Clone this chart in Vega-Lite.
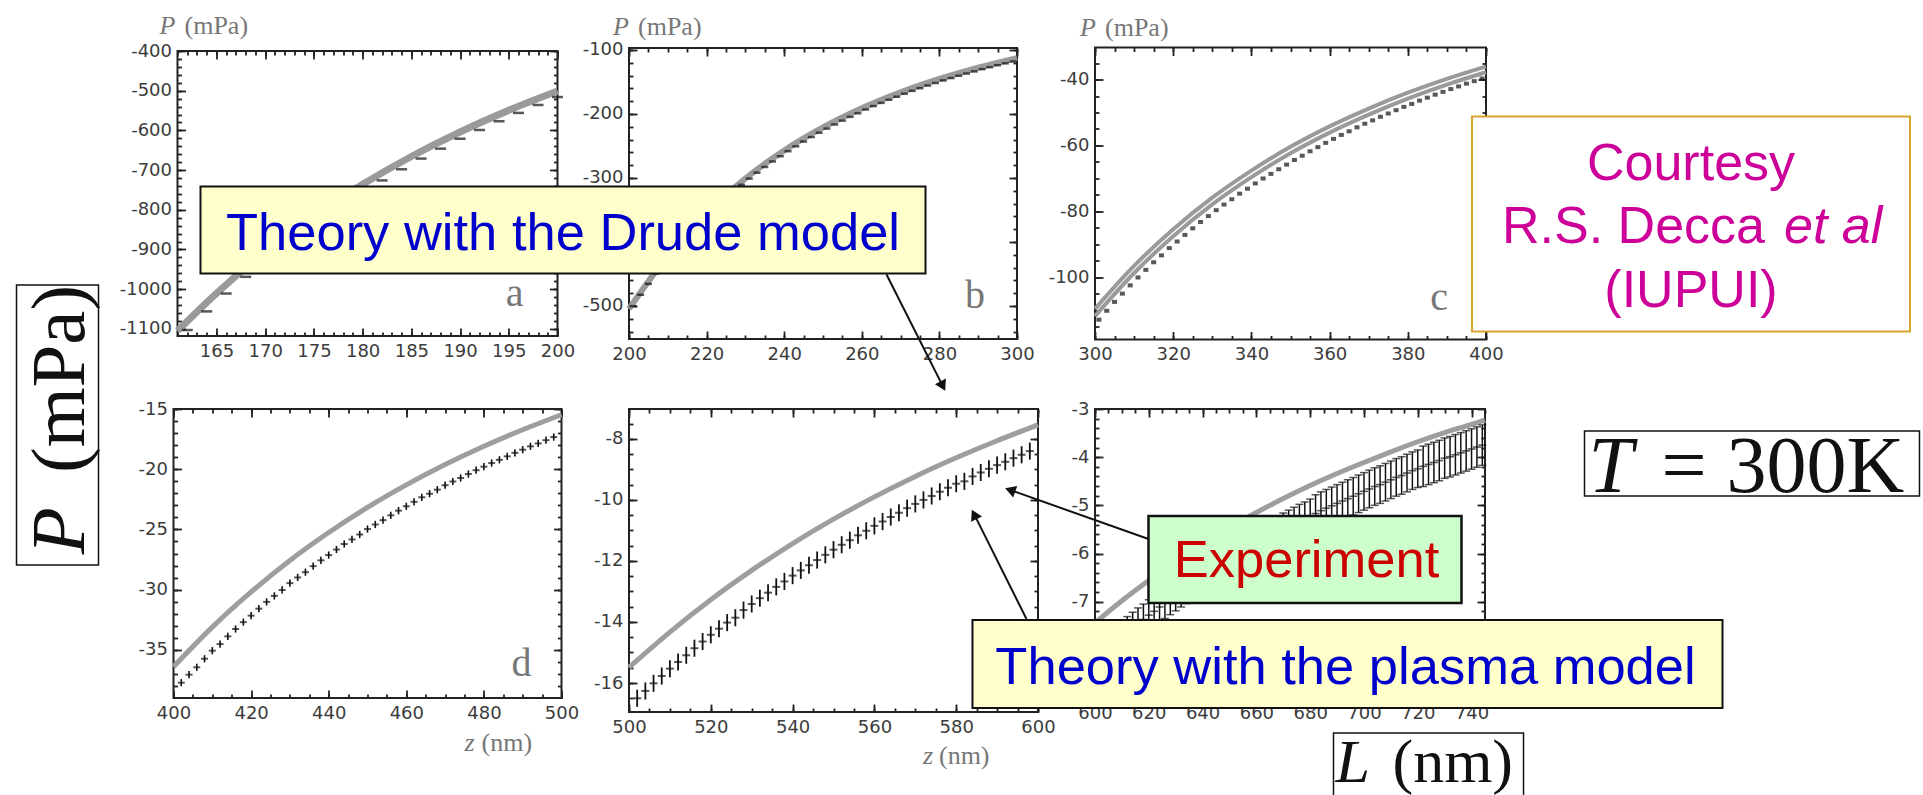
{
"$schema": "https://vega.github.io/schema/vega-lite/v6.json",
"padding": 0,
"background": "white",
"columns": 3,
"spacing": {"row": 64, "column": 57},
"bounds": "flush",
"align": "all",
"center": true,
"config": {
  "view": {"stroke": "#222", "strokeWidth": 2},
  "axis": {"domain": false, "grid": false, "labelFont": "DejaVu Sans", "labelFontSize": 18, "labelColor": "#3c3c3c", "tickColor": "#222", "tickWidth": 1.8, "labelFlush": false, "labelOverlap": false}
},
"concat": [
{
"width": 380, "height": 285,
"data": {"values": [{"z":161,"P":-1105},{"z":165,"P":-1010.4},{"z":170,"P":-906.2},{"z":175,"P":-815.2},{"z":180,"P":-735.7},{"z":185,"P":-665.7},{"z":190,"P":-604.0},{"z":195,"P":-549.5},{"z":200,"P":-501.0}]},
"resolve": {"axis": {"x": "independent", "y": "independent"}},
"layer": [
 {"mark": {"type": "line", "opacity": 0}, "encoding": {
   "x": {"field": "z", "type": "quantitative", "scale": {"domain": [161, 200], "nice": false, "zero": false}, "axis": {"orient": "bottom", "values": [161,162,163,164,165,166,167,168,169,170,171,172,173,174,175,176,177,178,179,180,181,182,183,184,185,186,187,188,189,190,191,192,193,194,195,196,197,198,199,200], "labels": false, "tickSize": -4, "title": null}},
   "y": {"field": "P", "type": "quantitative", "scale": {"domain": [-1118, -400], "nice": false, "zero": false}, "axis": {"orient": "left", "values": [-1100,-1080,-1060,-1040,-1020,-1000,-980,-960,-940,-920,-900,-880,-860,-840,-820,-800,-780,-760,-740,-720,-700,-680,-660,-640,-620,-600,-580,-560,-540,-520,-500,-480,-460,-440,-420,-400], "labels": false, "tickSize": -4, "title": null}}}},
 {"mark": {"type": "line", "opacity": 0}, "encoding": {
   "x": {"field": "z", "type": "quantitative", "axis": {"orient": "top", "values": [161,162,163,164,165,166,167,168,169,170,171,172,173,174,175,176,177,178,179,180,181,182,183,184,185,186,187,188,189,190,191,192,193,194,195,196,197,198,199,200], "labels": false, "tickSize": -4, "title": null}},
   "y": {"field": "P", "type": "quantitative", "axis": {"orient": "right", "values": [-1100,-1080,-1060,-1040,-1020,-1000,-980,-960,-940,-920,-900,-880,-860,-840,-820,-800,-780,-760,-740,-720,-700,-680,-660,-640,-620,-600,-580,-560,-540,-520,-500,-480,-460,-440,-420,-400], "labels": false, "tickSize": -4, "title": null}}}},
 {"mark": {"type": "line", "opacity": 0}, "encoding": {
   "x": {"field": "z", "type": "quantitative", "axis": {"orient": "top", "values": [165,170,175,180,185,190,195,200], "labels": false, "tickSize": -8, "title": null}},
   "y": {"field": "P", "type": "quantitative", "axis": {"orient": "right", "values": [-1100,-1000,-900,-800,-700,-600,-500,-400], "labels": false, "tickSize": -8, "title": null}}}},
 {"mark": {"type": "line", "color": "#9a9a9a", "strokeWidth": 7, "interpolate": "monotone"}, "encoding": {
   "x": {"field": "z", "type": "quantitative", "axis": {"orient": "bottom", "values": [165,170,175,180,185,190,195,200], "tickSize": -8, "labelPadding": 14, "labelExpr": "datum.value + ''", "title": null}},
   "y": {"field": "P", "type": "quantitative", "axis": {"orient": "left", "values": [-1100,-1000,-900,-800,-700,-600,-500,-400], "tickSize": -8, "labelPadding": 14, "labelExpr": "datum.value + ''", "title": null}}}},
 {"data": {"values": [{"z":162,"P":-1103},{"z":164,"P":-1056},{"z":166,"P":-1011},{"z":168,"P":-969},{"z":170,"P":-927},{"z":172,"P":-890},{"z":174,"P":-853},{"z":176,"P":-819},{"z":178,"P":-787},{"z":180,"P":-755},{"z":182,"P":-726},{"z":184,"P":-698},{"z":186,"P":-671},{"z":188,"P":-646},{"z":190,"P":-621},{"z":192,"P":-599},{"z":194,"P":-577},{"z":196,"P":-556},{"z":198,"P":-536},{"z":200,"P":-516}]},
  "mark": {"type": "tick", "orient": "horizontal", "size": 11, "thickness": 2.5, "color": "#111"},
  "encoding": {"x": {"field": "z", "type": "quantitative", "axis": null}, "y": {"field": "P", "type": "quantitative", "axis": null}}},
 {"data": {"values": [{}]}, "mark": {"type": "text", "text": "a", "font": "Liberation Serif", "fontSize": 40, "color": "#777", "align": "center", "baseline": "alphabetic"}, "encoding": {"x": {"datum": 195.59, "axis": null}, "y": {"datum": -1042.3, "axis": null}}},
 {"data": {"values": [{}]}, "mark": {"type": "text", "text": "P", "font": "Liberation Serif", "fontStyle": "italic", "fontSize": 26, "color": "#777", "align": "left", "baseline": "alphabetic"}, "encoding": {"x": {"datum": 159.15, "axis": null}, "y": {"datum": -357.2, "axis": null}}},
 {"data": {"values": [{}]}, "mark": {"type": "text", "text": "(mPa)", "font": "Liberation Serif", "fontSize": 26, "color": "#777", "align": "left", "baseline": "alphabetic"}, "encoding": {"x": {"datum": 161.72, "axis": null}, "y": {"datum": -357.2, "axis": null}}}
]
},
{
"width": 388, "height": 291,
"data": {"values": [{"z":200,"P":-504.5},{"z":210,"P":-421.2},{"z":220,"P":-354.6},{"z":230,"P":-300.8},{"z":240,"P":-257.0},{"z":250,"P":-221.0},{"z":260,"P":-191.1},{"z":270,"P":-166.2},{"z":280,"P":-145.3},{"z":290,"P":-127.6},{"z":300,"P":-112.6}]},
"resolve": {"axis": {"x": "independent", "y": "independent"}},
"layer": [
 {"mark": {"type": "line", "opacity": 0}, "encoding": {
   "x": {"field": "z", "type": "quantitative", "scale": {"domain": [200, 300], "nice": false, "zero": false}, "axis": {"orient": "bottom", "values": [200,205,210,215,220,225,230,235,240,245,250,255,260,265,270,275,280,285,290,295,300], "labels": false, "tickSize": -4, "title": null}},
   "y": {"field": "P", "type": "quantitative", "scale": {"domain": [-551.6, -96.9], "nice": false, "zero": false}, "axis": {"orient": "left", "values": [-540,-520,-500,-480,-460,-440,-420,-400,-380,-360,-340,-320,-300,-280,-260,-240,-220,-200,-180,-160,-140,-120,-100], "labels": false, "tickSize": -4, "title": null}}}},
 {"mark": {"type": "line", "opacity": 0}, "encoding": {
   "x": {"field": "z", "type": "quantitative", "axis": {"orient": "top", "values": [200,205,210,215,220,225,230,235,240,245,250,255,260,265,270,275,280,285,290,295,300], "labels": false, "tickSize": -4, "title": null}},
   "y": {"field": "P", "type": "quantitative", "axis": {"orient": "right", "values": [-540,-520,-500,-480,-460,-440,-420,-400,-380,-360,-340,-320,-300,-280,-260,-240,-220,-200,-180,-160,-140,-120,-100], "labels": false, "tickSize": -4, "title": null}}}},
 {"mark": {"type": "line", "opacity": 0}, "encoding": {
   "x": {"field": "z", "type": "quantitative", "axis": {"orient": "top", "values": [200,220,240,260,280,300], "labels": false, "tickSize": -8, "title": null}},
   "y": {"field": "P", "type": "quantitative", "axis": {"orient": "right", "values": [-500,-400,-300,-200,-100], "labels": false, "tickSize": -8, "title": null}}}},
 {"mark": {"type": "line", "color": "#9a9a9a", "strokeWidth": 6, "interpolate": "monotone"}, "encoding": {
   "x": {"field": "z", "type": "quantitative", "axis": {"orient": "bottom", "values": [200,220,240,260,280,300], "tickSize": -8, "labelPadding": 14, "labelExpr": "datum.value + ''", "title": null}},
   "y": {"field": "P", "type": "quantitative", "axis": {"orient": "left", "values": [-500,-400,-300,-200,-100], "tickSize": -8, "labelPadding": 14, "labelExpr": "datum.value + ''", "title": null}}}},
 {"data": {"values": [{"z":201,"P":-500.3},{"z":203,"P":-482.5},{"z":205,"P":-465.5},{"z":207,"P":-449.2},{"z":209,"P":-433.7},{"z":211,"P":-418.9},{"z":213,"P":-404.7},{"z":215,"P":-391.1},{"z":217,"P":-378.0},{"z":219,"P":-365.6},{"z":221,"P":-353.7},{"z":223,"P":-342.3},{"z":225,"P":-331.3},{"z":227,"P":-320.8},{"z":229,"P":-310.7},{"z":231,"P":-301.0},{"z":233,"P":-291.7},{"z":235,"P":-282.8},{"z":237,"P":-274.2},{"z":239,"P":-266.0},{"z":241,"P":-258.1},{"z":243,"P":-250.5},{"z":245,"P":-243.1},{"z":247,"P":-236.1},{"z":249,"P":-229.3},{"z":251,"P":-222.8},{"z":253,"P":-216.4},{"z":255,"P":-210.4},{"z":257,"P":-204.5},{"z":259,"P":-198.9},{"z":261,"P":-193.0},{"z":263,"P":-187.7},{"z":265,"P":-182.7},{"z":267,"P":-177.8},{"z":269,"P":-173.1},{"z":271,"P":-168.3},{"z":273,"P":-163.9},{"z":275,"P":-159.7},{"z":277,"P":-155.6},{"z":279,"P":-151.6},{"z":281,"P":-147.6},{"z":283,"P":-143.9},{"z":285,"P":-140.3},{"z":287,"P":-136.8},{"z":289,"P":-133.5},{"z":291,"P":-130.0},{"z":293,"P":-126.9},{"z":295,"P":-123.8},{"z":297,"P":-120.9},{"z":299,"P":-118.0}]},
  "mark": {"type": "tick", "orient": "horizontal", "size": 7, "thickness": 2.5, "color": "#111"},
  "encoding": {"x": {"field": "z", "type": "quantitative", "axis": null}, "y": {"field": "P", "type": "quantitative", "axis": null}}},
 {"data": {"values": [{}]}, "mark": {"type": "text", "text": "b", "font": "Liberation Serif", "fontSize": 40, "color": "#777", "align": "center", "baseline": "alphabetic"}, "encoding": {"x": {"datum": 289.18, "axis": null}, "y": {"datum": -503.1, "axis": null}}},
 {"data": {"values": [{}]}, "mark": {"type": "text", "text": "P", "font": "Liberation Serif", "fontStyle": "italic", "fontSize": 26, "color": "#777", "align": "left", "baseline": "alphabetic"}, "encoding": {"x": {"datum": 195.88, "axis": null}, "y": {"datum": -76.6, "axis": null}}},
 {"data": {"values": [{}]}, "mark": {"type": "text", "text": "(mPa)", "font": "Liberation Serif", "fontSize": 26, "color": "#777", "align": "left", "baseline": "alphabetic"}, "encoding": {"x": {"datum": 202.32, "axis": null}, "y": {"datum": -76.6, "axis": null}}},
 {"data": {"values": [{}]}, "mark": {"type": "rule", "color": "#111", "strokeWidth": 2}, "encoding": {"x": {"datum": 266.37, "axis": null}, "y": {"datum": -450.8, "axis": null}, "x2": {"datum": 280.88}, "y2": {"datum": -625.2}}},
 {"data": {"values": [{}]}, "mark": {"type": "point", "shape": "triangle-up", "filled": true, "color": "#111", "opacity": 1, "size": 150, "angle": 153.2}, "encoding": {"x": {"datum": 280.88, "axis": null}, "y": {"datum": -625.2, "axis": null}}},
 {"data": {"values": [{}]}, "mark": {"type": "rect", "fill": "#FFFFCC", "stroke": "#111", "strokeWidth": 2}, "encoding": {"x": {"datum": 89.56, "axis": null}, "x2": {"datum": 276.42}, "y": {"datum": -313.3, "axis": null}, "y2": {"datum": -449.2}}},
 {"data": {"values": [{}]}, "mark": {"type": "text", "text": "Theory with the Drude model", "font": "Liberation Sans", "fontSize": 52.5, "color": "#0000CC", "align": "center", "baseline": "alphabetic"}, "encoding": {"x": {"datum": 182.99, "axis": null}, "y": {"datum": -412.8, "axis": null}}}
]
},
{
"width": 391, "height": 292,
"data": {"values": [{"z":300,"P":-109.5,"s":"u"},{"z":310,"P":-96.5,"s":"u"},{"z":320,"P":-85.4,"s":"u"},{"z":330,"P":-75.8,"s":"u"},{"z":340,"P":-67.6,"s":"u"},{"z":350,"P":-60.4,"s":"u"},{"z":360,"P":-54.2,"s":"u"},{"z":370,"P":-48.8,"s":"u"},{"z":380,"P":-44.0,"s":"u"},{"z":390,"P":-39.8,"s":"u"},{"z":400,"P":-36.1,"s":"u"},{"z":300,"P":-111.7,"s":"l"},{"z":310,"P":-98.65,"s":"l"},{"z":320,"P":-87.5,"s":"l"},{"z":330,"P":-77.85,"s":"l"},{"z":340,"P":-69.6,"s":"l"},{"z":350,"P":-62.35,"s":"l"},{"z":360,"P":-56.1,"s":"l"},{"z":370,"P":-50.65,"s":"l"},{"z":380,"P":-45.8,"s":"l"},{"z":390,"P":-41.55,"s":"l"},{"z":400,"P":-37.8,"s":"l"}]},
"resolve": {"axis": {"x": "independent", "y": "independent"}},
"layer": [
 {"mark": {"type": "line", "opacity": 0}, "encoding": {
   "x": {"field": "z", "type": "quantitative", "scale": {"domain": [300, 400], "nice": false, "zero": false}, "axis": {"orient": "bottom", "values": [300,305,310,315,320,325,330,335,340,345,350,355,360,365,370,375,380,385,390,395,400], "labels": false, "tickSize": -4, "title": null}},
   "y": {"field": "P", "type": "quantitative", "scale": {"domain": [-118.8, -30.3], "nice": false, "zero": false}, "axis": {"orient": "left", "values": [-115,-110,-105,-100,-95,-90,-85,-80,-75,-70,-65,-60,-55,-50,-45,-40,-35], "labels": false, "tickSize": -4, "title": null}},
   "detail": {"field": "s"}}},
 {"mark": {"type": "line", "opacity": 0}, "encoding": {
   "x": {"field": "z", "type": "quantitative", "axis": {"orient": "top", "values": [300,305,310,315,320,325,330,335,340,345,350,355,360,365,370,375,380,385,390,395,400], "labels": false, "tickSize": -4, "title": null}},
   "y": {"field": "P", "type": "quantitative", "axis": {"orient": "right", "values": [-115,-110,-105,-100,-95,-90,-85,-80,-75,-70,-65,-60,-55,-50,-45,-40,-35], "labels": false, "tickSize": -4, "title": null}},
   "detail": {"field": "s"}}},
 {"mark": {"type": "line", "opacity": 0}, "encoding": {
   "x": {"field": "z", "type": "quantitative", "axis": {"orient": "top", "values": [300,320,340,360,380,400], "labels": false, "tickSize": -8, "title": null}},
   "y": {"field": "P", "type": "quantitative", "axis": {"orient": "right", "values": [-100,-80,-60,-40], "labels": false, "tickSize": -8, "title": null}},
   "detail": {"field": "s"}}},
 {"mark": {"type": "line", "color": "#9a9a9a", "strokeWidth": 4, "interpolate": "monotone"}, "encoding": {
   "x": {"field": "z", "type": "quantitative", "axis": {"orient": "bottom", "values": [300,320,340,360,380,400], "tickSize": -8, "labelPadding": 14, "labelExpr": "datum.value + ''", "title": null}},
   "y": {"field": "P", "type": "quantitative", "axis": {"orient": "left", "values": [-100,-80,-60,-40], "tickSize": -8, "labelPadding": 14, "labelExpr": "datum.value + ''", "title": null}},
   "detail": {"field": "s"}}},
 {"data": {"values": [{"z":301,"P":-112.8},{"z":303,"P":-110.1},{"z":305,"P":-107.4},{"z":307,"P":-104.9},{"z":309,"P":-102.4},{"z":311,"P":-100.0},{"z":313,"P":-97.7},{"z":315,"P":-95.4},{"z":317,"P":-93.3},{"z":319,"P":-91.1},{"z":321,"P":-89.1},{"z":323,"P":-87.1},{"z":325,"P":-85.1},{"z":327,"P":-83.2},{"z":329,"P":-81.4},{"z":331,"P":-79.6},{"z":333,"P":-77.9},{"z":335,"P":-76.3},{"z":337,"P":-74.6},{"z":339,"P":-73.1},{"z":341,"P":-71.5},{"z":343,"P":-70.0},{"z":345,"P":-68.6},{"z":347,"P":-67.2},{"z":349,"P":-65.8},{"z":351,"P":-64.4},{"z":353,"P":-63.1},{"z":355,"P":-61.75},{"z":357,"P":-60.5},{"z":359,"P":-59.2},{"z":361,"P":-58.0},{"z":363,"P":-56.8},{"z":365,"P":-55.7},{"z":367,"P":-54.5},{"z":369,"P":-53.4},{"z":371,"P":-52.4},{"z":373,"P":-51.3},{"z":375,"P":-50.3},{"z":377,"P":-49.3},{"z":379,"P":-48.3},{"z":381,"P":-47.4},{"z":383,"P":-46.4},{"z":385,"P":-45.5},{"z":387,"P":-44.6},{"z":389,"P":-43.75},{"z":391,"P":-42.9},{"z":393,"P":-42.1},{"z":395,"P":-41.25},{"z":397,"P":-40.5},{"z":399,"P":-39.7}]},
  "mark": {"type": "tick", "orient": "horizontal", "size": 5, "thickness": 4, "color": "#111"},
  "encoding": {"x": {"field": "z", "type": "quantitative", "axis": null}, "y": {"field": "P", "type": "quantitative", "axis": null}}},
 {"data": {"values": [{}]}, "mark": {"type": "text", "text": "c", "font": "Liberation Serif", "fontSize": 40, "color": "#777", "align": "center", "baseline": "alphabetic"}, "encoding": {"x": {"datum": 387.98, "axis": null}, "y": {"datum": -110.0, "axis": null}}},
 {"data": {"values": [{}]}, "mark": {"type": "text", "text": "P", "font": "Liberation Serif", "fontStyle": "italic", "fontSize": 26, "color": "#777", "align": "left", "baseline": "alphabetic"}, "encoding": {"x": {"datum": 296.16, "axis": null}, "y": {"datum": -26.67, "axis": null}}},
 {"data": {"values": [{}]}, "mark": {"type": "text", "text": "(mPa)", "font": "Liberation Serif", "fontSize": 26, "color": "#777", "align": "left", "baseline": "alphabetic"}, "encoding": {"x": {"datum": 302.56, "axis": null}, "y": {"datum": -26.67, "axis": null}}},
 {"data": {"values": [{}]}, "mark": {"type": "rect", "fill": "white", "stroke": "#D4A52A", "strokeWidth": 2}, "encoding": {"x": {"datum": 396.42, "axis": null}, "x2": {"datum": 508.44}, "y": {"datum": -51.21, "axis": null}, "y2": {"datum": -116.38}}},
 {"data": {"values": [{}]}, "mark": {"type": "text", "text": "Courtesy", "font": "Liberation Sans", "fontSize": 52, "color": "#CC0099", "align": "center", "baseline": "alphabetic"}, "encoding": {"x": {"datum": 452.43, "axis": null}, "y": {"datum": -70.31, "axis": null}}},
 {"data": {"values": [{}]}, "mark": {"type": "text", "text": "R.S. Decca", "font": "Liberation Sans", "fontSize": 52, "color": "#CC0099", "align": "right", "baseline": "alphabetic"}, "encoding": {"x": {"datum": 471.36, "axis": null}, "y": {"datum": -89.70, "axis": null}}},
 {"data": {"values": [{}]}, "mark": {"type": "text", "text": "et al", "font": "Liberation Sans", "fontStyle": "italic", "fontSize": 52, "color": "#CC0099", "align": "left", "baseline": "alphabetic"}, "encoding": {"x": {"datum": 476.22, "axis": null}, "y": {"datum": -89.70, "axis": null}}},
 {"data": {"values": [{}]}, "mark": {"type": "text", "text": "(IUPUI)", "font": "Liberation Sans", "fontSize": 52, "color": "#CC0099", "align": "center", "baseline": "alphabetic"}, "encoding": {"x": {"datum": 452.43, "axis": null}, "y": {"datum": -108.80, "axis": null}}}
]
},
{
"width": 388, "height": 289,
"data": {"values": [{"z":400,"P":-36.40},{"z":410,"P":-33.11},{"z":420,"P":-30.19},{"z":430,"P":-27.58},{"z":440,"P":-25.26},{"z":450,"P":-23.17},{"z":460,"P":-21.30},{"z":470,"P":-19.61},{"z":480,"P":-18.09},{"z":490,"P":-16.72},{"z":500,"P":-15.47}]},
"resolve": {"axis": {"x": "independent", "y": "independent"}},
"layer": [
 {"data": {"values": [{}]}, "mark": {"type": "rect", "fill": "white", "fillOpacity": 0}, "encoding": {"x": {"datum": 355.67, "axis": null, "scale": {"domain": [400, 500], "nice": false, "zero": false}}, "x2": {"datum": 851.289}, "y": {"datum": 18.8, "axis": null, "scale": {"domain": [-39, -15], "nice": false, "zero": false}}, "y2": {"datum": -47.222}}},
 {"mark": {"type": "line", "opacity": 0}, "encoding": {
   "x": {"field": "z", "type": "quantitative", "scale": {"domain": [400, 500], "nice": false, "zero": false}, "axis": {"orient": "bottom", "values": [400,405,410,415,420,425,430,435,440,445,450,455,460,465,470,475,480,485,490,495,500], "labels": false, "tickSize": -4, "title": null}},
   "y": {"field": "P", "type": "quantitative", "scale": {"domain": [-39, -15], "nice": false, "zero": false}, "axis": {"orient": "left", "values": [-38,-37,-36,-35,-34,-33,-32,-31,-30,-29,-28,-27,-26,-25,-24,-23,-22,-21,-20,-19,-18,-17,-16,-15], "labels": false, "tickSize": -4, "title": null}}}},
 {"mark": {"type": "line", "opacity": 0}, "encoding": {
   "x": {"field": "z", "type": "quantitative", "axis": {"orient": "top", "values": [400,405,410,415,420,425,430,435,440,445,450,455,460,465,470,475,480,485,490,495,500], "labels": false, "tickSize": -4, "title": null}},
   "y": {"field": "P", "type": "quantitative", "axis": {"orient": "right", "values": [-38,-37,-36,-35,-34,-33,-32,-31,-30,-29,-28,-27,-26,-25,-24,-23,-22,-21,-20,-19,-18,-17,-16,-15], "labels": false, "tickSize": -4, "title": null}}}},
 {"mark": {"type": "line", "opacity": 0}, "encoding": {
   "x": {"field": "z", "type": "quantitative", "axis": {"orient": "top", "values": [400,420,440,460,480,500], "labels": false, "tickSize": -8, "title": null}},
   "y": {"field": "P", "type": "quantitative", "axis": {"orient": "right", "values": [-35,-30,-25,-20,-15], "labels": false, "tickSize": -8, "title": null}}}},
 {"mark": {"type": "line", "color": "#9e9e9e", "strokeWidth": 5, "interpolate": "monotone"}, "encoding": {
   "x": {"field": "z", "type": "quantitative", "axis": {"orient": "bottom", "values": [400,420,440,460,480,500], "tickSize": -8, "labelPadding": 14, "labelExpr": "datum.value + ''", "title": null}},
   "y": {"field": "P", "type": "quantitative", "axis": {"orient": "left", "values": [-35,-30,-25,-20,-15], "tickSize": -8, "labelPadding": 14, "labelExpr": "datum.value + ''", "title": null}}}},
 {"data": {"values": [{"z":402,"P":-37.73,"e":0.3},{"z":404,"P":-37.06,"e":0.3},{"z":406,"P":-36.45,"e":0.3},{"z":408,"P":-35.74,"e":0.3},{"z":410,"P":-35.07,"e":0.3},{"z":412,"P":-34.52,"e":0.3},{"z":414,"P":-33.88,"e":0.3},{"z":416,"P":-33.27,"e":0.3},{"z":418,"P":-32.70,"e":0.3},{"z":420,"P":-32.16,"e":0.3},{"z":422,"P":-31.58,"e":0.3},{"z":424,"P":-31.02,"e":0.3},{"z":426,"P":-30.52,"e":0.3},{"z":428,"P":-30.03,"e":0.3},{"z":430,"P":-29.46,"e":0.3},{"z":432,"P":-28.99,"e":0.3},{"z":434,"P":-28.55,"e":0.3},{"z":436,"P":-28.05,"e":0.3},{"z":438,"P":-27.57,"e":0.3},{"z":440,"P":-27.13,"e":0.3},{"z":442,"P":-26.67,"e":0.3},{"z":444,"P":-26.21,"e":0.3},{"z":446,"P":-25.83,"e":0.3},{"z":448,"P":-25.42,"e":0.3},{"z":450,"P":-24.97,"e":0.3},{"z":452,"P":-24.59,"e":0.3},{"z":454,"P":-24.23,"e":0.3},{"z":456,"P":-23.83,"e":0.3},{"z":458,"P":-23.44,"e":0.3},{"z":460,"P":-23.08,"e":0.3},{"z":462,"P":-22.71,"e":0.3},{"z":464,"P":-22.33,"e":0.3},{"z":466,"P":-22.03,"e":0.3},{"z":468,"P":-21.70,"e":0.3},{"z":470,"P":-21.33,"e":0.3},{"z":472,"P":-21.02,"e":0.3},{"z":474,"P":-20.73,"e":0.3},{"z":476,"P":-20.40,"e":0.3},{"z":478,"P":-20.08,"e":0.3},{"z":480,"P":-19.79,"e":0.3},{"z":482,"P":-19.49,"e":0.3},{"z":484,"P":-19.22,"e":0.3},{"z":486,"P":-18.93,"e":0.3},{"z":488,"P":-18.64,"e":0.3},{"z":490,"P":-18.38,"e":0.3},{"z":492,"P":-18.10,"e":0.3},{"z":494,"P":-17.86,"e":0.3},{"z":496,"P":-17.59,"e":0.3},{"z":498,"P":-17.33,"e":0.3}]},
  "layer": [
   {"mark": {"type": "errorbar", "color": "#111", "thickness": 1.6}, "encoding": {"x": {"field": "z", "type": "quantitative", "axis": null}, "y": {"field": "P", "type": "quantitative", "axis": null}, "yError": {"field": "e"}}},
   {"mark": {"type": "tick", "orient": "horizontal", "size": 7, "thickness": 2, "color": "#111"}, "encoding": {"x": {"field": "z", "type": "quantitative", "axis": null}, "y": {"field": "P", "type": "quantitative", "axis": null}}}
  ]},
 {"data": {"values": [{}]}, "mark": {"type": "text", "text": "d", "font": "Liberation Serif", "fontSize": 40, "color": "#777", "align": "center", "baseline": "alphabetic"}, "encoding": {"x": {"datum": 489.69, "axis": null}, "y": {"datum": -37.16, "axis": null}}},
 {"data": {"values": [{}]}, "mark": {"type": "text", "text": "z", "font": "Liberation Serif", "fontStyle": "italic", "fontSize": 26, "color": "#777", "align": "left", "baseline": "alphabetic"}, "encoding": {"x": {"datum": 475.0, "axis": null}, "y": {"datum": -43.38, "axis": null}}},
 {"data": {"values": [{}]}, "mark": {"type": "text", "text": "(nm)", "font": "Liberation Serif", "fontSize": 26, "color": "#777", "align": "left", "baseline": "alphabetic"}, "encoding": {"x": {"datum": 479.38, "axis": null}, "y": {"datum": -43.38, "axis": null}}},
 {"data": {"values": [{}]}, "mark": {"type": "rect", "filled": false, "stroke": "#111", "strokeWidth": 1.5}, "encoding": {"x": {"datum": 359.54, "axis": null}, "x2": {"datum": 380.67}, "y": {"datum": -4.70, "axis": null}, "y2": {"datum": -27.955}}},
 {"data": {"values": [{}]}, "mark": {"type": "text", "text": "P", "font": "Liberation Serif", "fontStyle": "italic", "fontSize": 77, "color": "#111", "align": "center", "baseline": "alphabetic", "angle": 270}, "encoding": {"x": {"datum": 376.93, "axis": null}, "y": {"datum": -25.1, "axis": null}}},
 {"data": {"values": [{}]}, "mark": {"type": "text", "text": "(mPa)", "font": "Liberation Serif", "fontSize": 77, "color": "#111", "align": "center", "baseline": "alphabetic", "angle": 270}, "encoding": {"x": {"datum": 376.93, "axis": null}, "y": {"datum": -12.5, "axis": null}}}
]
},
{
"width": 409, "height": 303,
"data": {"values": [{"z":500,"P":-15.49},{"z":510,"P":-14.33},{"z":520,"P":-13.27},{"z":530,"P":-12.31},{"z":540,"P":-11.43},{"z":550,"P":-10.63},{"z":560,"P":-9.90},{"z":570,"P":-9.23},{"z":580,"P":-8.62},{"z":590,"P":-8.06},{"z":600,"P":-7.54}]},
"resolve": {"axis": {"x": "independent", "y": "independent"}},
"layer": [
 {"mark": {"type": "line", "opacity": 0}, "encoding": {
   "x": {"field": "z", "type": "quantitative", "scale": {"domain": [500, 600], "nice": false, "zero": false}, "axis": {"orient": "bottom", "values": [500,505,510,515,520,525,530,535,540,545,550,555,560,565,570,575,580,585,590,595,600], "labels": false, "tickSize": -4, "title": null}},
   "y": {"field": "P", "type": "quantitative", "scale": {"domain": [-16.95, -7.02], "nice": false, "zero": false}, "axis": {"orient": "left", "values": [-16.5,-16,-15.5,-15,-14.5,-14,-13.5,-13,-12.5,-12,-11.5,-11,-10.5,-10,-9.5,-9,-8.5,-8,-7.5], "labels": false, "tickSize": -4, "title": null}}}},
 {"mark": {"type": "line", "opacity": 0}, "encoding": {
   "x": {"field": "z", "type": "quantitative", "axis": {"orient": "top", "values": [500,505,510,515,520,525,530,535,540,545,550,555,560,565,570,575,580,585,590,595,600], "labels": false, "tickSize": -4, "title": null}},
   "y": {"field": "P", "type": "quantitative", "axis": {"orient": "right", "values": [-16.5,-16,-15.5,-15,-14.5,-14,-13.5,-13,-12.5,-12,-11.5,-11,-10.5,-10,-9.5,-9,-8.5,-8,-7.5], "labels": false, "tickSize": -4, "title": null}}}},
 {"mark": {"type": "line", "opacity": 0}, "encoding": {
   "x": {"field": "z", "type": "quantitative", "axis": {"orient": "top", "values": [500,520,540,560,580,600], "labels": false, "tickSize": -8, "title": null}},
   "y": {"field": "P", "type": "quantitative", "axis": {"orient": "right", "values": [-16,-14,-12,-10,-8], "labels": false, "tickSize": -8, "title": null}}}},
 {"mark": {"type": "line", "color": "#9e9e9e", "strokeWidth": 5, "interpolate": "monotone"}, "encoding": {
   "x": {"field": "z", "type": "quantitative", "axis": {"orient": "bottom", "values": [500,520,540,560,580,600], "tickSize": -8, "labelPadding": 14, "labelExpr": "datum.value + ''", "title": null}},
   "y": {"field": "P", "type": "quantitative", "axis": {"orient": "left", "values": [-16,-14,-12,-10,-8], "tickSize": -8, "labelPadding": 14, "labelExpr": "datum.value + ''", "title": null}}}},
 {"data": {"values": [{"z":502,"P":-16.50,"e":0.28},{"z":504,"P":-16.26,"e":0.28},{"z":506,"P":-16.01,"e":0.28},{"z":508,"P":-15.77,"e":0.28},{"z":510,"P":-15.53,"e":0.28},{"z":512,"P":-15.31,"e":0.28},{"z":514,"P":-15.09,"e":0.28},{"z":516,"P":-14.86,"e":0.28},{"z":518,"P":-14.64,"e":0.28},{"z":520,"P":-14.42,"e":0.28},{"z":522,"P":-14.22,"e":0.28},{"z":524,"P":-14.02,"e":0.28},{"z":526,"P":-13.86,"e":0.28},{"z":528,"P":-13.61,"e":0.28},{"z":530,"P":-13.41,"e":0.28},{"z":532,"P":-13.22,"e":0.28},{"z":534,"P":-13.04,"e":0.28},{"z":536,"P":-12.85,"e":0.28},{"z":538,"P":-12.67,"e":0.28},{"z":540,"P":-12.48,"e":0.28},{"z":542,"P":-12.31,"e":0.28},{"z":544,"P":-12.14,"e":0.28},{"z":546,"P":-11.97,"e":0.28},{"z":548,"P":-11.80,"e":0.28},{"z":550,"P":-11.63,"e":0.28},{"z":552,"P":-11.47,"e":0.28},{"z":554,"P":-11.32,"e":0.28},{"z":556,"P":-11.16,"e":0.28},{"z":558,"P":-11.01,"e":0.28},{"z":560,"P":-10.85,"e":0.28},{"z":562,"P":-10.71,"e":0.28},{"z":564,"P":-10.56,"e":0.28},{"z":566,"P":-10.42,"e":0.28},{"z":568,"P":-10.27,"e":0.28},{"z":570,"P":-10.13,"e":0.28},{"z":572,"P":-10.00,"e":0.28},{"z":574,"P":-9.87,"e":0.28},{"z":576,"P":-9.73,"e":0.28},{"z":578,"P":-9.60,"e":0.28},{"z":580,"P":-9.47,"e":0.28},{"z":582,"P":-9.39,"e":0.28},{"z":584,"P":-9.23,"e":0.28},{"z":586,"P":-9.10,"e":0.28},{"z":588,"P":-8.98,"e":0.28},{"z":590,"P":-8.86,"e":0.28},{"z":592,"P":-8.75,"e":0.28},{"z":594,"P":-8.63,"e":0.28},{"z":596,"P":-8.52,"e":0.28},{"z":598,"P":-8.40,"e":0.28}]},
  "layer": [
   {"mark": {"type": "errorbar", "color": "#111", "thickness": 1.8}, "encoding": {"x": {"field": "z", "type": "quantitative", "axis": null}, "y": {"field": "P", "type": "quantitative", "axis": null}, "yError": {"field": "e"}}},
   {"mark": {"type": "tick", "orient": "horizontal", "size": 8, "thickness": 2, "color": "#111"}, "encoding": {"x": {"field": "z", "type": "quantitative", "axis": null}, "y": {"field": "P", "type": "quantitative", "axis": null}}}
  ]},
 {"data": {"values": [{}]}, "mark": {"type": "text", "text": "z", "font": "Liberation Serif", "fontStyle": "italic", "fontSize": 26, "color": "#777", "align": "left", "baseline": "alphabetic"}, "encoding": {"x": {"datum": 571.88, "axis": null}, "y": {"datum": -18.66, "axis": null}}},
 {"data": {"values": [{}]}, "mark": {"type": "text", "text": "(nm)", "font": "Liberation Serif", "fontSize": 26, "color": "#777", "align": "left", "baseline": "alphabetic"}, "encoding": {"x": {"datum": 575.79, "axis": null}, "y": {"datum": -18.66, "axis": null}}}
]
},
{
"width": 390, "height": 289,
"data": {"values": [{"z":600,"P":-7.44},{"z":610,"P":-6.98},{"z":620,"P":-6.56},{"z":630,"P":-6.16},{"z":640,"P":-5.80},{"z":650,"P":-5.47},{"z":660,"P":-5.15},{"z":670,"P":-4.86},{"z":680,"P":-4.59},{"z":690,"P":-4.34},{"z":700,"P":-4.11},{"z":710,"P":-3.89},{"z":720,"P":-3.68},{"z":730,"P":-3.49},{"z":740,"P":-3.32},{"z":745,"P":-3.23}]},
"resolve": {"axis": {"x": "independent", "y": "independent"}},
"layer": [
 {"mark": {"type": "line", "opacity": 0}, "encoding": {
   "x": {"field": "z", "type": "quantitative", "scale": {"domain": [600, 745], "nice": false, "zero": false}, "axis": {"orient": "bottom", "values": [600,605,610,615,620,625,630,635,640,645,650,655,660,665,670,675,680,685,690,695,700,705,710,715,720,725,730,735,740,745], "labels": false, "tickSize": -4, "title": null}},
   "y": {"field": "P", "type": "quantitative", "scale": {"domain": [-9, -3], "nice": false, "zero": false}, "axis": {"orient": "left", "values": [-8.8,-8.6,-8.4,-8.2,-8,-7.8,-7.6,-7.4,-7.2,-7,-6.8,-6.6,-6.4,-6.2,-6,-5.8,-5.6,-5.4,-5.2,-5,-4.8,-4.6,-4.4,-4.2,-4,-3.8,-3.6,-3.4,-3.2], "labels": false, "tickSize": -4, "title": null}}}},
 {"mark": {"type": "line", "opacity": 0}, "encoding": {
   "x": {"field": "z", "type": "quantitative", "axis": {"orient": "top", "values": [600,605,610,615,620,625,630,635,640,645,650,655,660,665,670,675,680,685,690,695,700,705,710,715,720,725,730,735,740,745], "labels": false, "tickSize": -4, "title": null}},
   "y": {"field": "P", "type": "quantitative", "axis": {"orient": "right", "values": [-8.8,-8.6,-8.4,-8.2,-8,-7.8,-7.6,-7.4,-7.2,-7,-6.8,-6.6,-6.4,-6.2,-6,-5.8,-5.6,-5.4,-5.2,-5,-4.8,-4.6,-4.4,-4.2,-4,-3.8,-3.6,-3.4,-3.2], "labels": false, "tickSize": -4, "title": null}}}},
 {"mark": {"type": "line", "opacity": 0}, "encoding": {
   "x": {"field": "z", "type": "quantitative", "axis": {"orient": "top", "values": [600,620,640,660,680,700,720,740], "labels": false, "tickSize": -8, "title": null}},
   "y": {"field": "P", "type": "quantitative", "axis": {"orient": "right", "values": [-8,-7,-6,-5,-4,-3], "labels": false, "tickSize": -8, "title": null}}}},
 {"mark": {"type": "line", "color": "#9e9e9e", "strokeWidth": 5, "interpolate": "monotone"}, "encoding": {
   "x": {"field": "z", "type": "quantitative", "axis": {"orient": "bottom", "values": [600,620,640,660,680,700,720,740], "tickSize": -8, "labelPadding": 14, "labelExpr": "datum.value + ''", "title": null}},
   "y": {"field": "P", "type": "quantitative", "axis": {"orient": "left", "values": [-8,-7,-6,-5,-4,-3], "tickSize": -8, "labelPadding": 14, "labelExpr": "datum.value + ''", "title": null}}}},
 {"data": {"values": [{"z":602,"P":-8.10,"e":0.32},{"z":604,"P":-8.00,"e":0.32},{"z":606,"P":-7.91,"e":0.32},{"z":608,"P":-7.81,"e":0.32},{"z":610,"P":-7.72,"e":0.32},{"z":612,"P":-7.63,"e":0.32},{"z":614,"P":-7.54,"e":0.32},{"z":616,"P":-7.45,"e":0.32},{"z":618,"P":-7.37,"e":0.32},{"z":620,"P":-7.28,"e":0.32},{"z":622,"P":-7.20,"e":0.32},{"z":624,"P":-7.11,"e":0.32},{"z":626,"P":-7.03,"e":0.32},{"z":628,"P":-6.95,"e":0.32},{"z":630,"P":-6.87,"e":0.32},{"z":632,"P":-6.79,"e":0.32},{"z":634,"P":-6.72,"e":0.32},{"z":636,"P":-6.64,"e":0.32},{"z":638,"P":-6.57,"e":0.32},{"z":640,"P":-6.49,"e":0.32},{"z":642,"P":-6.42,"e":0.35},{"z":644,"P":-6.35,"e":0.35},{"z":646,"P":-6.28,"e":0.35},{"z":648,"P":-6.21,"e":0.35},{"z":650,"P":-6.15,"e":0.35},{"z":652,"P":-6.08,"e":0.35},{"z":654,"P":-6.01,"e":0.35},{"z":656,"P":-5.94,"e":0.35},{"z":658,"P":-5.88,"e":0.35},{"z":660,"P":-5.81,"e":0.35},{"z":662,"P":-5.75,"e":0.35},{"z":664,"P":-5.69,"e":0.35},{"z":666,"P":-5.63,"e":0.35},{"z":668,"P":-5.57,"e":0.35},{"z":670,"P":-5.51,"e":0.35},{"z":672,"P":-5.45,"e":0.35},{"z":674,"P":-5.39,"e":0.35},{"z":676,"P":-5.33,"e":0.35},{"z":678,"P":-5.28,"e":0.35},{"z":680,"P":-5.22,"e":0.35},{"z":682,"P":-5.17,"e":0.39},{"z":684,"P":-5.11,"e":0.39},{"z":686,"P":-5.06,"e":0.39},{"z":688,"P":-5.01,"e":0.39},{"z":690,"P":-4.96,"e":0.39},{"z":692,"P":-4.91,"e":0.39},{"z":694,"P":-4.86,"e":0.39},{"z":696,"P":-4.81,"e":0.39},{"z":698,"P":-4.76,"e":0.39},{"z":700,"P":-4.71,"e":0.39},{"z":702,"P":-4.66,"e":0.39},{"z":704,"P":-4.61,"e":0.39},{"z":706,"P":-4.57,"e":0.39},{"z":708,"P":-4.52,"e":0.39},{"z":710,"P":-4.47,"e":0.39},{"z":712,"P":-4.42,"e":0.39},{"z":714,"P":-4.38,"e":0.39},{"z":716,"P":-4.33,"e":0.39},{"z":718,"P":-4.28,"e":0.39},{"z":720,"P":-4.24,"e":0.39},{"z":722,"P":-4.19,"e":0.42},{"z":724,"P":-4.15,"e":0.42},{"z":726,"P":-4.11,"e":0.42},{"z":728,"P":-4.07,"e":0.42},{"z":730,"P":-4.02,"e":0.42},{"z":732,"P":-3.99,"e":0.42},{"z":734,"P":-3.95,"e":0.42},{"z":736,"P":-3.91,"e":0.42},{"z":738,"P":-3.87,"e":0.42},{"z":740,"P":-3.83,"e":0.42},{"z":742,"P":-3.79,"e":0.42},{"z":744,"P":-3.75,"e":0.42}]},
  "layer": [
   {"mark": {"type": "errorbar", "color": "#111", "thickness": 1.5, "ticks": true, "size": 8}, "encoding": {"x": {"field": "z", "type": "quantitative", "axis": null}, "y": {"field": "P", "type": "quantitative", "axis": null}, "yError": {"field": "e"}}},
   {"mark": {"type": "tick", "orient": "horizontal", "size": 8, "thickness": 1.6, "color": "#111"}, "encoding": {"x": {"field": "z", "type": "quantitative", "axis": null}, "y": {"field": "P", "type": "quantitative", "axis": null}}}
  ]},
 {"data": {"values": [{}]}, "mark": {"type": "rule", "color": "#111", "strokeWidth": 2}, "encoding": {"x": {"datum": 619.89, "axis": null}, "y": {"datum": -5.699, "axis": null}, "x2": {"datum": 568.47}, "y2": {"datum": -4.6817}}},
 {"data": {"values": [{}]}, "mark": {"type": "point", "shape": "triangle-up", "filled": true, "color": "#111", "opacity": 1, "size": 150, "angle": 289.5}, "encoding": {"x": {"datum": 568.47, "axis": null}, "y": {"datum": -4.6817, "axis": null}}},
 {"data": {"values": [{}]}, "mark": {"type": "rule", "color": "#111", "strokeWidth": 2}, "encoding": {"x": {"datum": 574.53, "axis": null}, "y": {"datum": -7.36, "axis": null}, "x2": {"datum": 555.09}, "y2": {"datum": -5.188}}},
 {"data": {"values": [{}]}, "mark": {"type": "point", "shape": "triangle-up", "filled": true, "color": "#111", "opacity": 1, "size": 150, "angle": 333.4}, "encoding": {"x": {"datum": 555.09, "axis": null}, "y": {"datum": -5.188, "axis": null}}},
 {"data": {"values": [{}]}, "mark": {"type": "rect", "fill": "#CCFFCC", "stroke": "#111", "strokeWidth": 2.5}, "encoding": {"x": {"datum": 619.89, "axis": null}, "x2": {"datum": 736.26}, "y": {"datum": -5.2215, "axis": null}, "y2": {"datum": -7.0277}}},
 {"data": {"values": [{}]}, "mark": {"type": "text", "text": "Experiment", "font": "Liberation Sans", "fontSize": 52.5, "color": "#CC0000", "align": "center", "baseline": "alphabetic"}, "encoding": {"x": {"datum": 678.63, "axis": null}, "y": {"datum": -6.488, "axis": null}}},
 {"data": {"values": [{}]}, "mark": {"type": "rect", "fill": "#FFFFCC", "stroke": "#111", "strokeWidth": 2}, "encoding": {"x": {"datum": 554.45, "axis": null}, "x2": {"datum": 833.3}, "y": {"datum": -7.3806, "axis": null}, "y2": {"datum": -9.2076}}},
 {"data": {"values": [{}]}, "mark": {"type": "text", "text": "Theory with the plasma model", "font": "Liberation Sans", "fontSize": 52.5, "color": "#0000CC", "align": "center", "baseline": "alphabetic"}, "encoding": {"x": {"datum": 693.14, "axis": null}, "y": {"datum": -8.703, "axis": null}}},
 {"data": {"values": [{}]}, "mark": {"type": "rect", "filled": false, "stroke": "#111", "strokeWidth": 1.5}, "encoding": {"x": {"datum": 781.99, "axis": null}, "x2": {"datum": 906.54}, "y": {"datum": -3.4567, "axis": null}, "y2": {"datum": -4.8062}}},
 {"data": {"values": [{}]}, "mark": {"type": "text", "text": "T", "font": "Liberation Serif", "fontStyle": "italic", "fontSize": 80, "color": "#111", "align": "left", "baseline": "alphabetic"}, "encoding": {"x": {"datum": 783.48, "axis": null}, "y": {"datum": -4.7232, "axis": null}}},
 {"data": {"values": [{}]}, "mark": {"type": "text", "text": "= 300K", "font": "Liberation Serif", "fontSize": 80, "color": "#111", "align": "left", "baseline": "alphabetic"}, "encoding": {"x": {"datum": 810.62, "axis": null}, "y": {"datum": -4.7232, "axis": null}}},
 {"data": {"values": [{}]}, "mark": {"type": "rect", "filled": false, "stroke": "#111", "strokeWidth": 1.5}, "encoding": {"x": {"datum": 688.67, "axis": null}, "x2": {"datum": 759.32}, "y": {"datum": -9.7266, "axis": null}, "y2": {"datum": -11.097}}},
 {"data": {"values": [{}]}, "mark": {"type": "text", "text": "L", "font": "Liberation Serif", "fontStyle": "italic", "fontSize": 62, "color": "#111", "align": "left", "baseline": "alphabetic"}, "encoding": {"x": {"datum": 689.42, "axis": null}, "y": {"datum": -10.744, "axis": null}}},
 {"data": {"values": [{}]}, "mark": {"type": "text", "text": "(nm)", "font": "Liberation Serif", "fontSize": 62, "color": "#111", "align": "left", "baseline": "alphabetic"}, "encoding": {"x": {"datum": 710.61, "axis": null}, "y": {"datum": -10.744, "axis": null}}}
]
}
]
}
